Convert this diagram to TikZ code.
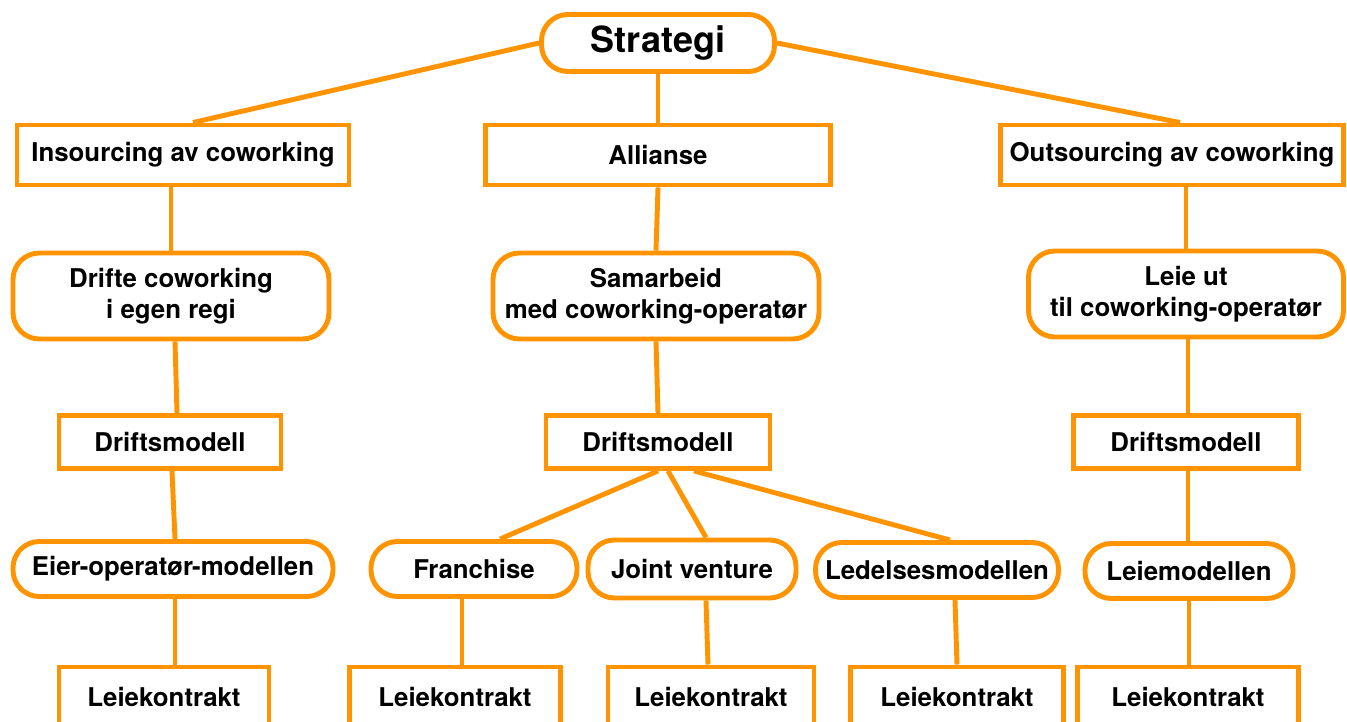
\documentclass[tikz,border=0pt]{standalone}
\usepackage{fontspec}
\setmainfont{TeX Gyre Heros}
\usepackage{tikz}
\definecolor{orng}{RGB}{255,148,0}
\tikzset{
  box/.style={draw=orng,line width=2.8pt,fill=white,align=center,inner sep=0pt,
    font=\fontsize{14.7}{17.6}\selectfont\bfseries},
  pill/.style={box,rounded corners=15pt},
  sz/.style 2 args={minimum width=#1*0.02cm,minimum height=#2*0.02cm},
  link/.style={draw=orng,line width=2.8pt}
}

\begin{document}
\begin{tikzpicture}[x=0.02cm,y=-0.02cm]
	\useasboundingbox (0,0) rectangle (1347,722);
	% top level
	\node[pill,sz={233}{57},font=\fontsize{20.5}{24}\selectfont\bfseries] (strat) at (658,43) {Strategi};
	\node[box,sz={332}{60}] (ins) at (183,155) {Insourcing av coworking};
	\node[box,sz={345}{60}] (all) at (658,155) {Allianse};
	\node[box,sz={343}{60}] (out) at (1172,155) {Outsourcing av coworking};
	% second level
	\node[pill,sz={316}{86}] (drifte) at (171,296) {Drifte coworking\\i egen regi};
	\node[pill,sz={326}{86}] (samarb) at (656,296) {Samarbeid\\med coworking-operatør};
	\node[pill,sz={315}{86}] (leieut) at (1186,294) {Leie ut\\til coworking-operatør};
	\node[box,sz={222}{53}] (dmA) at (170,442) {Driftsmodell};
	\node[box,sz={224}{53}] (dmB) at (658,442) {Driftsmodell};
	\node[box,sz={225}{53}] (dmC) at (1186,442) {Driftsmodell};
	% models
	\node[pill,sz={320}{55}] (eier) at (173,569) {Eier-operatør-modellen};
	\node[pill,sz={206}{55}] (franch) at (474,569) {Franchise};
	\node[pill,sz={208}{58}] (joint) at (692,569) {Joint venture};
	\node[pill,sz={243}{55}] (ledel) at (937,570) {Ledelsesmodellen};
	\node[pill,sz={208}{55}] (leiem) at (1189,571) {Leiemodellen};
	% contracts
	\node[box,sz={210}{60}] (lkA) at (164,697) {Leiekontrakt};
	\node[box,sz={211}{60}] (lkB) at (455,697) {Leiekontrakt};
	\node[box,sz={206}{60}] (lkC) at (711,697) {Leiekontrakt};
	\node[box,sz={213}{60}] (lkD) at (957,697) {Leiekontrakt};
	\node[box,sz={221}{60}] (lkE) at (1188,697) {Leiekontrakt};

	\draw[link] (strat.west)--([xshift=10*0.02cm]ins.north);
	\draw[link] (strat.south)--(all.north);
	\draw[link] (strat.east)--([xshift=8*0.02cm]out.north);
	\draw[link] (drifte.north |- ins.south)--(drifte.north);
	\draw[link] ([xshift=4*0.02cm]drifte.south)--([xshift=7*0.02cm]dmA.north);
	\draw[link] ([xshift=2*0.02cm]dmA.south)--([xshift=2*0.02cm]eier.north);
	\draw[link] ([xshift=2*0.02cm]eier.south)--([xshift=2*0.02cm]eier.south |- lkA.north);
	\draw[link] (all.south)--(samarb.north);
	\draw[link] (samarb.south)--(dmB.north);
	\draw[link] (dmB.south)--([xshift=26*0.02cm]franch.north);
	\draw[link] ([xshift=10*0.02cm]dmB.south)--([xshift=14*0.02cm]joint.north);
	\draw[link] ([xshift=36*0.02cm]dmB.south)--([xshift=13*0.02cm]ledel.north);
	\draw[link] ([xshift=-12*0.02cm]franch.south)--([xshift=-12*0.02cm]franch.south |- lkB.north);
	\draw[link] ([xshift=14*0.02cm]joint.south)--([xshift=-3*0.02cm]lkC.north);
	\draw[link] ([xshift=18*0.02cm]ledel.south)--(lkD.north);
	\draw[link] (leieut.north |- out.south)--(leieut.north);
	\draw[link] ([xshift=2*0.02cm]leieut.south)--([xshift=2*0.02cm]dmC.north);
	\draw[link] ([xshift=2*0.02cm]dmC.south)--([xshift=2*0.02cm]dmC.south |- leiem.north);
	\draw[link] (leiem.south)--(leiem.south |- lkE.north);
\end{tikzpicture}
\end{document}
